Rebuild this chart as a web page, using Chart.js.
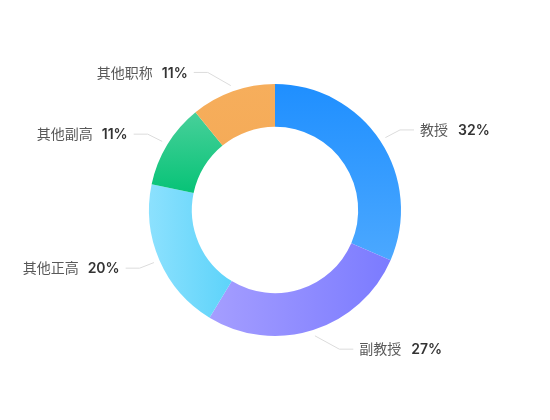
<!DOCTYPE html>
<html>
<head>
<meta charset="utf-8">
<script src="https://cdn.jsdelivr.net/npm/chart.js@4"></script>
<style>
    html, body { margin: 0; padding: 0; background: #fff; }
    #wrap { width: 550px; height: 420px; }
</style>
</head>
<body>
<div id="wrap"><canvas id="titleChart" width="550" height="420"></canvas></div>
<script>
// 职称分布
const categories = ['教授', '副教授', '其他正高', '其他副高', '其他职称'];
const counts = [29, 25, 18, 10, 10];

// gradient stops per slice: [start, end, direction]
const sliceColors = [
    ['#1f8fff', '#4ba8ff', 'v'],
    ['#a59eff', '#7b7bff', 'h'],
    ['#8ce1fe', '#5dd3fa', 'h'],
    ['#48d09a', '#07c377', 'v'],
    ['#f6ae5c', '#f5ab58', 'v']
];

const total = counts.reduce((a, b) => a + b, 0);
const cutoutRatio = 0.66;

function sliceFill(context) {
    const chart = context.chart;
    const area = chart.chartArea;
    const i = context.dataIndex;
    const c = sliceColors[i];
    if (!area) return c[0];
    const cx = (area.left + area.right) / 2;
    const cy = (area.top + area.bottom) / 2;
    const ro = Math.min(area.right - area.left, area.bottom - area.top) / 2;
    const ri = ro * cutoutRatio;
    let before = 0;
    for (let k = 0; k < i; k++) before += counts[k];
    const a0 = -Math.PI / 2 + before / total * Math.PI * 2;
    const a1 = a0 + counts[i] / total * Math.PI * 2;
    // bounding box of the slice
    const xs = [], ys = [];
    const steps = 24;
    for (let s = 0; s <= steps; s++) {
        const a = a0 + (a1 - a0) * s / steps;
        [ri, ro].forEach(r => {
            xs.push(cx + Math.cos(a) * r);
            ys.push(cy + Math.sin(a) * r);
        });
    }
    const x0 = Math.min(...xs), x1 = Math.max(...xs);
    const y0 = Math.min(...ys), y1 = Math.max(...ys);
    const g = c[2] === 'h'
        ? chart.ctx.createLinearGradient(x0, 0, x1, 0)
        : chart.ctx.createLinearGradient(0, y0, 0, y1);
    g.addColorStop(0, c[0]);
    g.addColorStop(1, c[1]);
    return g;
}

const outsideLabels = {
    id: 'outsideLabels',
    afterDatasetsDraw(chart) {
        const ctx = chart.ctx;
        const meta = chart.getDatasetMeta(0);
        const font = '14px "Noto Sans CJK SC", sans-serif';
        const boldFont = '600 14px Inter, "Noto Sans CJK SC", sans-serif';
        ctx.save();
        meta.data.forEach((arc, i) => {
            const p = arc.getProps(['x', 'y', 'startAngle', 'endAngle', 'outerRadius'], true);
            const mid = (p.startAngle + p.endAngle) / 2;
            const ux = Math.cos(mid), uy = Math.sin(mid);
            const r = p.outerRadius;
            const side = ux >= 0 ? 1 : -1;
            const sx = p.x + ux * (r + 6), sy = p.y + uy * (r + 6);
            const by = p.y + uy * (r + 20);
            const dy = Math.abs(by - p.y);
            const rA = r + 20, rB = r + 29;
            const bx = p.x + side * rA * Math.sqrt(Math.max(0, 1 - (dy / rB) * (dy / rB)));
            const ex = bx + side * 14;

            ctx.strokeStyle = '#dcdcdc';
            ctx.lineWidth = 1;
            ctx.beginPath();
            ctx.moveTo(sx, sy);
            ctx.lineTo(bx, by);
            ctx.lineTo(ex, by);
            ctx.stroke();

            const pct = Math.round(counts[i] / total * 100) + '%';
            ctx.textBaseline = 'middle';
            ctx.font = font;
            const nameW = ctx.measureText(categories[i]).width;
            ctx.font = boldFont;
            const pctW = ctx.measureText(pct).width;
            let nx, px;
            if (side > 0) {
                nx = ex + 6;
                px = nx + nameW + 10;
            } else {
                px = ex - 6 - pctW;
                nx = px - 9 - nameW;
            }
            ctx.textAlign = 'left';
            ctx.font = font;
            ctx.fillStyle = '#595959';
            ctx.fillText(categories[i], nx, by);
            ctx.font = boldFont;
            ctx.fillStyle = '#333333';
            ctx.fillText(pct, px, by + 1);
        });
        ctx.restore();
    }
};

document.addEventListener("DOMContentLoaded", function () {
    new Chart(document.getElementById('titleChart').getContext('2d'), {
        type: 'doughnut',
        data: {
            labels: categories,
            datasets: [{
                data: counts,
                backgroundColor: sliceFill,
                borderWidth: 0,
                hoverOffset: 0
            }]
        },
        options: {
            responsive: false,
            animation: false,
            cutout: (cutoutRatio * 100) + '%',
            layout: { padding: { top: 84, bottom: 84, left: 100, right: 100 } },
            plugins: {
                legend: { display: false },
                tooltip: { enabled: false }
            }
        },
        plugins: [outsideLabels]
    });
});
</script>
</body>
</html>
